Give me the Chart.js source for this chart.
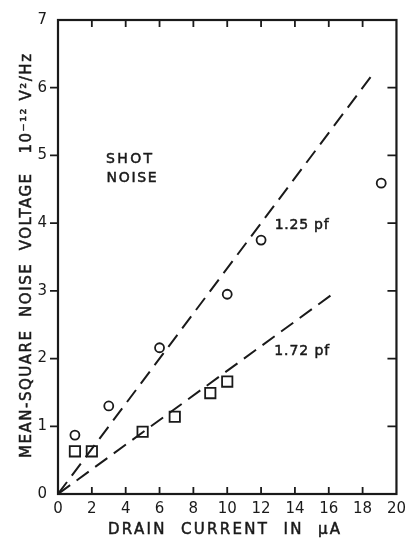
<!DOCTYPE html>
<html>
<head>
<meta charset="utf-8">
<script src="https://cdn.jsdelivr.net/npm/chart.js@4/dist/chart.umd.min.js"></script>
<style>
  html, body { margin: 0; padding: 0; background: #fff; }
  #wrap { width: 412px; height: 538px; }
</style>
</head>
<body>
<div id="wrap"><canvas id="c"></canvas></div>
<script>
// Axis ticks
const currentTicks = [0, 2, 4, 6, 8, 10, 12, 14, 16, 18, 20];
const voltageTicks = [0, 1, 2, 3, 4, 5, 6, 7];

// Measured points: 1.25 pf device (circles)
const circleCurrent = [1, 3, 6, 10, 12, 19.1];
const circleVoltage = [0.87, 1.3, 2.16, 2.95, 3.75, 4.59];

// Measured points: 1.72 pf device (squares)
const squareCurrent = [1, 2, 5, 6.9, 9, 10];
const squareVoltage = [0.63, 0.63, 0.92, 1.14, 1.49, 1.66];

// Theoretical shot-noise lines
const line125Current = [0, 18.6];
const line125Voltage = [0, 6.2];
const line172Current = [0, 16.1];
const line172Voltage = [0, 2.93];

// Text
const xTitle = 'DRAIN  CURRENT  IN  µA';
const yTitle = 'MEAN-SQUARE  NOISE  VOLTAGE   10⁻¹² V²/Hz';
const noteText = ['SHOT', 'NOISE', '1.25 pf', '1.72 pf'];
const noteCurrent = [4.2, 4.35, 14.4, 14.4];
const noteVoltage = [4.94, 4.66, 3.96, 2.1];
const noteWidth = [46, 50, 54, 55];

const pts = (xs, ys) => xs.map((x, i) => ({ x, y: ys[i] }));
const FONT = '"DejaVu Sans", sans-serif';
const INK = '#1a1a1a';

// draw text spread to a given width, lightly stroked for a lettering-guide weight
function spacedText(ctx, text, cx, cy, width) {
  ctx.letterSpacing = '0px';
  const w0 = ctx.measureText(text).width;
  const n = [...text].length;
  const sp = Math.max(0, (width - w0) / (n - 1));
  ctx.letterSpacing = sp + 'px';
  const x = cx + sp / 2; // trailing spacing is added after the last glyph
  ctx.fillText(text, x, cy);
  ctx.strokeText(text, x, cy);
}

const framePlugin = {
  id: 'frame',
  afterDraw(chart) {
    const { ctx, chartArea: a, scales: { x, y } } = chart;
    ctx.save();
    ctx.strokeStyle = INK;
    ctx.lineWidth = 2.2;
    ctx.strokeRect(a.left, a.top, a.right - a.left, a.bottom - a.top);
    ctx.lineWidth = 1.8;
    ctx.beginPath();
    currentTicks.forEach(v => {
      const px = x.getPixelForValue(v);
      if (v > 0 && v < 20) {
        ctx.moveTo(px, a.bottom); ctx.lineTo(px, a.bottom - 7);
        ctx.moveTo(px, a.top); ctx.lineTo(px, a.top + 7);
      }
    });
    voltageTicks.forEach(v => {
      const py = y.getPixelForValue(v);
      if (v > 0 && v < 7) {
        ctx.moveTo(a.left, py); ctx.lineTo(a.left - 8, py);
        ctx.moveTo(a.right, py); ctx.lineTo(a.right - 9, py);
      }
    });
    ctx.stroke();

    ctx.fillStyle = INK;
    ctx.strokeStyle = INK;
    ctx.lineWidth = 0.5;
    ctx.textBaseline = 'middle';
    ctx.textAlign = 'center';
    // axis titles
    ctx.font = '15px ' + FONT;
    spacedText(ctx, xTitle, 224, 530, 232);
    ctx.save();
    ctx.translate(27, 256);
    ctx.rotate(-Math.PI / 2);
    spacedText(ctx, yTitle, 0, 0, 404);
    ctx.restore();

    // annotations
    ctx.font = '14px ' + FONT;
    noteText.forEach((t, i) => {
      spacedText(ctx, t, x.getPixelForValue(noteCurrent[i]), y.getPixelForValue(noteVoltage[i]), noteWidth[i]);
    });
    ctx.restore();
  }
};

new Chart(document.getElementById('c'), {
  type: 'scatter',
  data: {
    datasets: [
      {
        label: '1.25 pf',
        data: pts(line125Current, line125Voltage),
        showLine: true, pointRadius: 0,
        borderColor: INK, borderWidth: 2, borderDash: [15, 8]
      },
      {
        label: '1.72 pf',
        data: pts(line172Current, line172Voltage),
        showLine: true, pointRadius: 0,
        borderColor: INK, borderWidth: 2, borderDash: [15, 8]
      },
      {
        label: 'circles',
        data: pts(circleCurrent, circleVoltage),
        pointStyle: 'circle', pointRadius: 4.5,
        backgroundColor: '#fff', borderColor: INK, borderWidth: 1.8
      },
      {
        label: 'squares',
        data: pts(squareCurrent, squareVoltage),
        pointStyle: 'rect', pointRadius: 7.3,
        backgroundColor: '#fff', borderColor: INK, borderWidth: 1.8
      }
    ]
  },
  options: {
    responsive: true,
    maintainAspectRatio: false,
    animation: false,
    events: [],
    layout: { padding: { left: 0, top: 15, right: 15, bottom: 0 } },
    plugins: { legend: { display: false }, tooltip: { enabled: false } },
    scales: {
      x: {
        type: 'linear', min: 0, max: 20,
        afterBuildTicks: s => { s.ticks = currentTicks.map(v => ({ value: v })); },
        afterFit: s => { s.height = 44; },
        grid: { display: false, drawTicks: false }, border: { display: false },
        ticks: { color: INK, font: { family: FONT, size: 15 }, padding: 6, maxRotation: 0, autoSkip: false }
      },
      y: {
        type: 'linear', min: 0, max: 7,
        afterBuildTicks: s => { s.ticks = voltageTicks.map(v => ({ value: v })); },
        afterFit: s => { s.width = 58; },
        grid: { display: false, drawTicks: false }, border: { display: false },
        ticks: { color: INK, font: { family: FONT, size: 15 }, padding: 11 }
      }
    }
  },
  plugins: [framePlugin]
});
</script>
</body>
</html>
